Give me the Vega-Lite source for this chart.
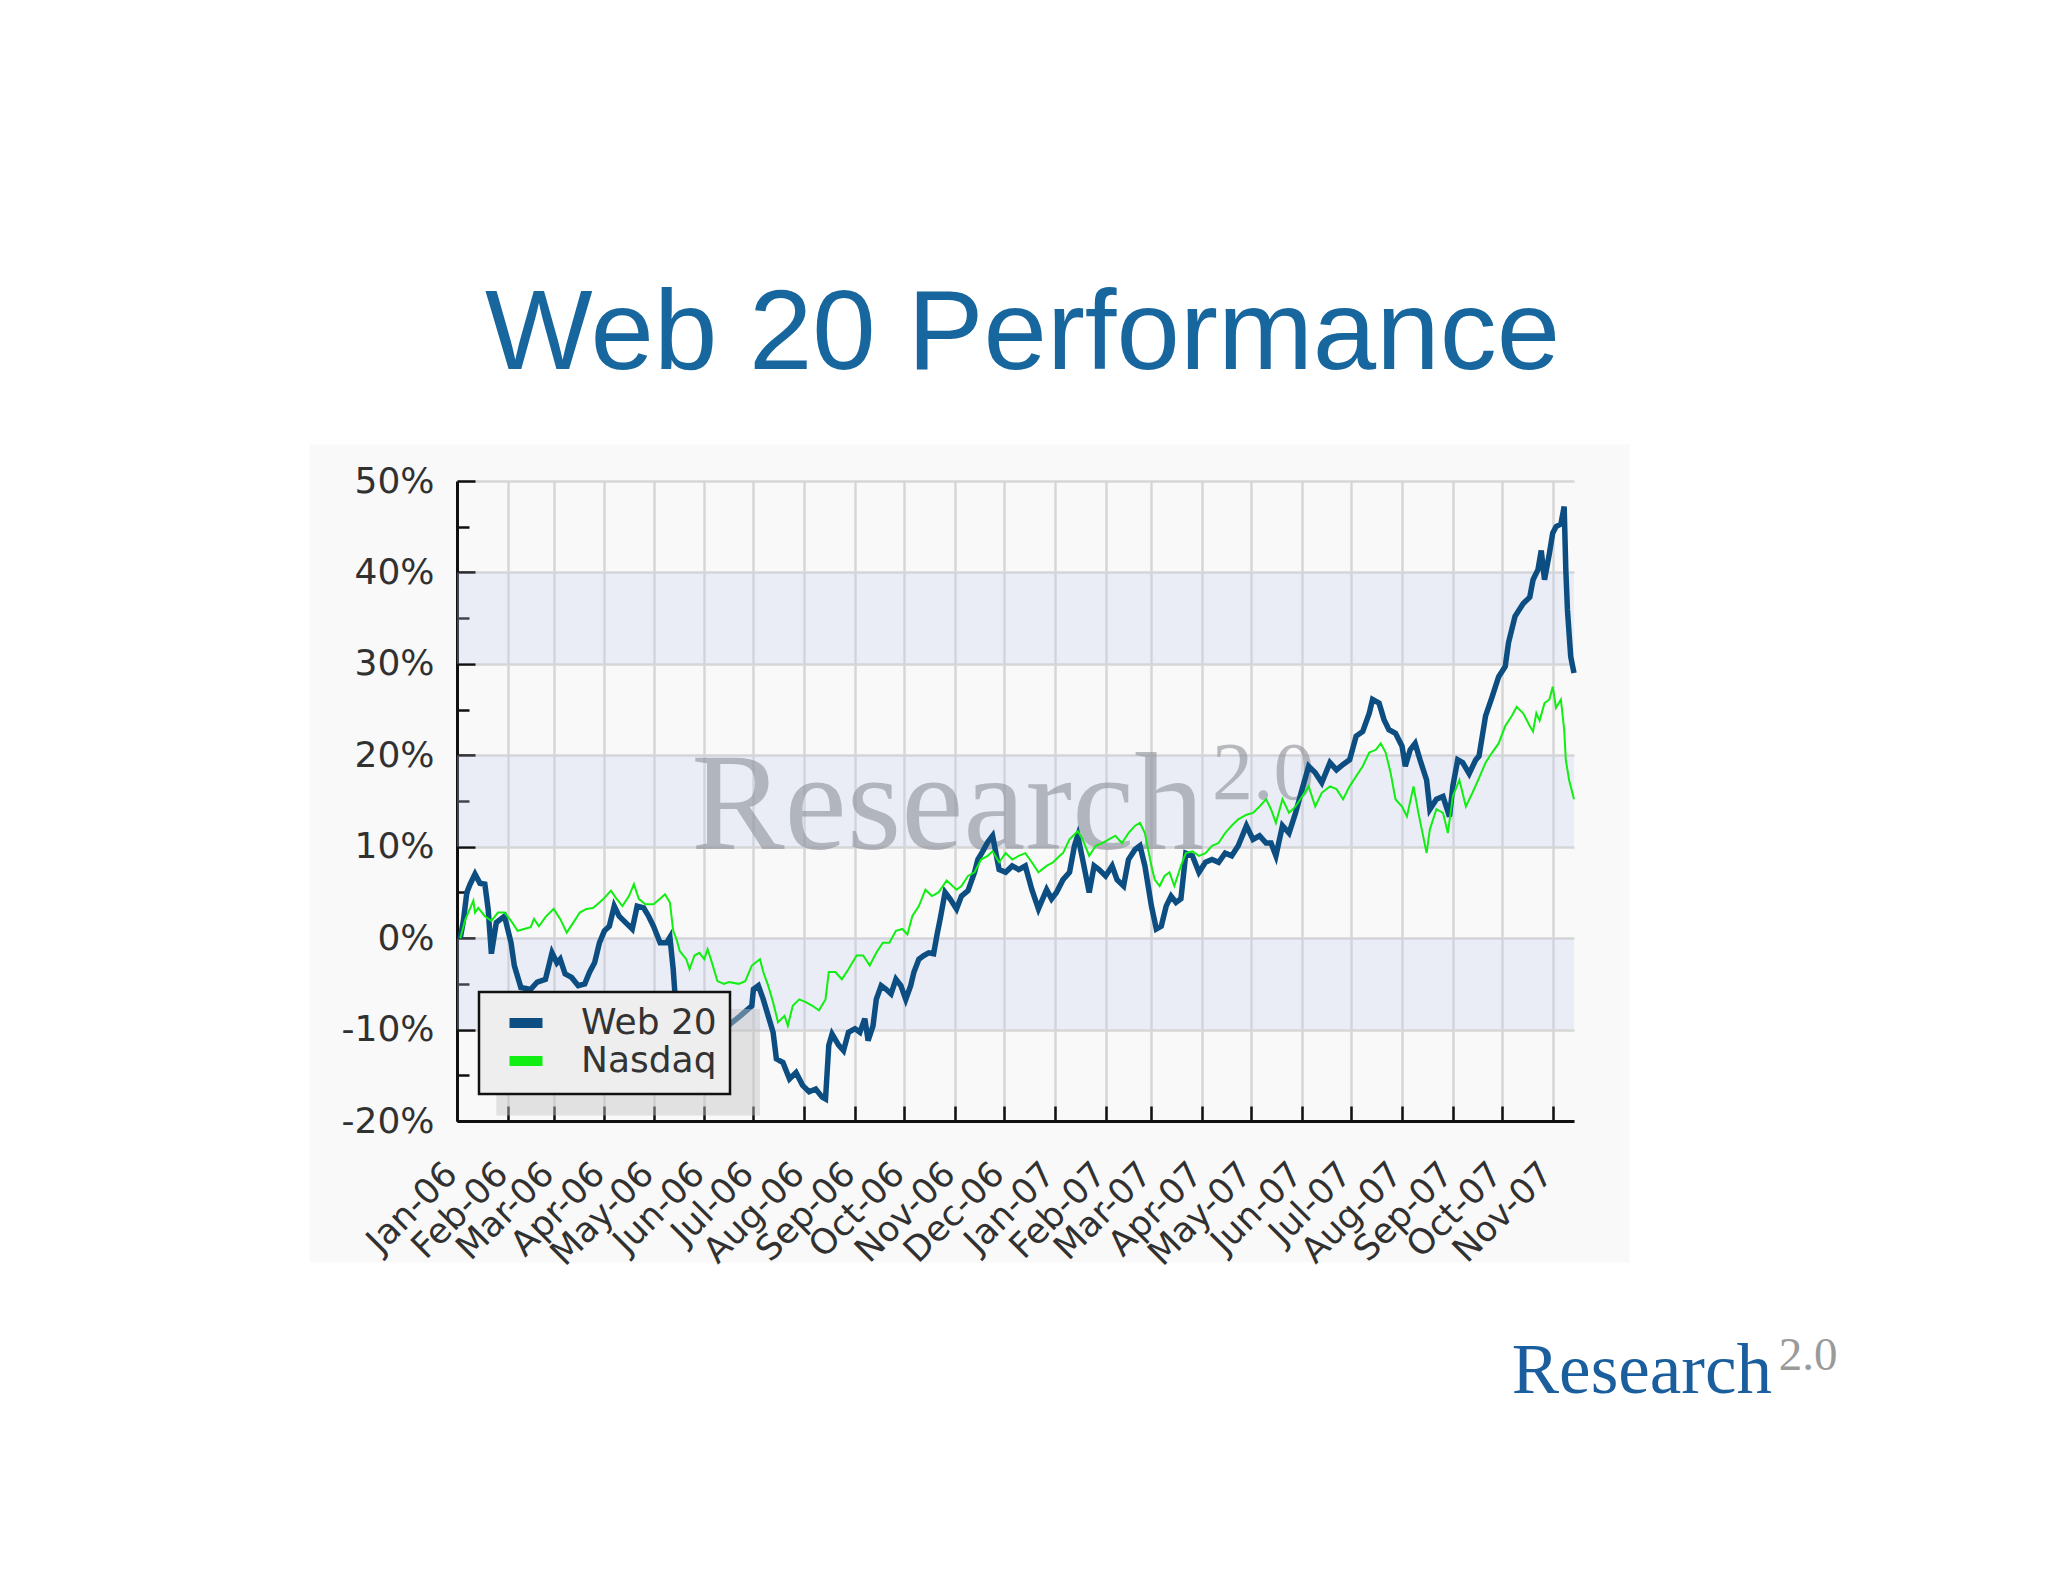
{
  "$schema": "https://vega.github.io/schema/vega-lite/v6.json",
  "width": 1117,
  "height": 640,
  "autosize": {"type": "none"},
  "padding": {"left": 457, "top": 481, "right": 474, "bottom": 461},
  "background": "#ffffff",
  "title": {"text": "Web 20 Performance", "font": "Liberation Sans", "fontSize": 114, "fontWeight": "normal", "color": "#17669E", "anchor": "middle", "frame": "group", "baseline": "alphabetic", "offset": -39, "dx": 7},
  "config": {
    "view": {"stroke": null, "fill": "#ffffff"},
    "axis": {"labelFont": "DejaVu Sans", "labelFontSize": 35, "labelColor": "#333333", "domainColor": "#111111", "domainWidth": 3, "tickColor": "#111111", "tickWidth": 2.5, "gridColor": "#dcdcdc", "gridWidth": 2.5, "title": null},
    "legend": {"orient": "none", "legendX": 22, "legendY": 511, "fillColor": "#eeeeee", "strokeColor": "#111111", "padding": 13, "labelFont": "DejaVu Sans", "labelFontSize": 36, "labelColor": "#333333", "symbolType": "M-2,0L2,0", "symbolSize": 272, "symbolStrokeWidth": 10, "symbolOffset": 16, "labelOffset": 37, "rowPadding": -3}
  },
  "datasets": {
    "bands": [{"lo": -10, "hi": 0}, {"lo": 10, "hi": 20}, {"lo": 30, "hi": 40}],
    "perf": [
{"date":"2006-01-03","series":"Web 20","value":0.0},
{"date":"2006-01-05","series":"Web 20","value":2.0},
{"date":"2006-01-07","series":"Web 20","value":5.0},
{"date":"2006-01-09","series":"Web 20","value":5.9},
{"date":"2006-01-12","series":"Web 20","value":7.0},
{"date":"2006-01-15","series":"Web 20","value":6.0},
{"date":"2006-01-18","series":"Web 20","value":5.9},
{"date":"2006-01-20","series":"Web 20","value":3.2},
{"date":"2006-01-22","series":"Web 20","value":-1.7},
{"date":"2006-01-25","series":"Web 20","value":1.7},
{"date":"2006-01-30","series":"Web 20","value":2.4},
{"date":"2006-02-03","series":"Web 20","value":-0.5},
{"date":"2006-02-05","series":"Web 20","value":-3.0},
{"date":"2006-02-09","series":"Web 20","value":-5.4},
{"date":"2006-02-15","series":"Web 20","value":-5.6},
{"date":"2006-02-19","series":"Web 20","value":-4.8},
{"date":"2006-02-24","series":"Web 20","value":-4.5},
{"date":"2006-02-28","series":"Web 20","value":-1.6},
{"date":"2006-03-03","series":"Web 20","value":-2.7},
{"date":"2006-03-05","series":"Web 20","value":-2.3},
{"date":"2006-03-08","series":"Web 20","value":-3.9},
{"date":"2006-03-12","series":"Web 20","value":-4.3},
{"date":"2006-03-16","series":"Web 20","value":-5.2},
{"date":"2006-03-20","series":"Web 20","value":-5.0},
{"date":"2006-03-23","series":"Web 20","value":-3.7},
{"date":"2006-03-26","series":"Web 20","value":-2.7},
{"date":"2006-03-29","series":"Web 20","value":-0.5},
{"date":"2006-04-01","series":"Web 20","value":0.8},
{"date":"2006-04-04","series":"Web 20","value":1.3},
{"date":"2006-04-07","series":"Web 20","value":3.5},
{"date":"2006-04-10","series":"Web 20","value":2.4},
{"date":"2006-04-14","series":"Web 20","value":1.7},
{"date":"2006-04-18","series":"Web 20","value":1.0},
{"date":"2006-04-21","series":"Web 20","value":3.5},
{"date":"2006-04-25","series":"Web 20","value":3.3},
{"date":"2006-04-28","series":"Web 20","value":2.4},
{"date":"2006-05-01","series":"Web 20","value":1.3},
{"date":"2006-05-05","series":"Web 20","value":-0.5},
{"date":"2006-05-09","series":"Web 20","value":-0.5},
{"date":"2006-05-11","series":"Web 20","value":0.1},
{"date":"2006-05-13","series":"Web 20","value":-3.4},
{"date":"2006-05-14","series":"Web 20","value":-5.9},
{"date":"2006-05-18","series":"Web 20","value":-7.5},
{"date":"2006-05-24","series":"Web 20","value":-8.5},
{"date":"2006-06-01","series":"Web 20","value":-9.5},
{"date":"2006-06-09","series":"Web 20","value":-10.5},
{"date":"2006-06-16","series":"Web 20","value":-9.5},
{"date":"2006-06-23","series":"Web 20","value":-8.5},
{"date":"2006-06-30","series":"Web 20","value":-7.4},
{"date":"2006-07-01","series":"Web 20","value":-5.6},
{"date":"2006-07-04","series":"Web 20","value":-5.2},
{"date":"2006-07-07","series":"Web 20","value":-6.7},
{"date":"2006-07-10","series":"Web 20","value":-8.5},
{"date":"2006-07-13","series":"Web 20","value":-10.3},
{"date":"2006-07-15","series":"Web 20","value":-13.2},
{"date":"2006-07-19","series":"Web 20","value":-13.6},
{"date":"2006-07-23","series":"Web 20","value":-15.4},
{"date":"2006-07-27","series":"Web 20","value":-14.7},
{"date":"2006-07-31","series":"Web 20","value":-16.1},
{"date":"2006-08-04","series":"Web 20","value":-16.8},
{"date":"2006-08-08","series":"Web 20","value":-16.5},
{"date":"2006-08-12","series":"Web 20","value":-17.4},
{"date":"2006-08-14","series":"Web 20","value":-17.6},
{"date":"2006-08-16","series":"Web 20","value":-11.7},
{"date":"2006-08-18","series":"Web 20","value":-10.5},
{"date":"2006-08-22","series":"Web 20","value":-11.7},
{"date":"2006-08-25","series":"Web 20","value":-12.3},
{"date":"2006-08-28","series":"Web 20","value":-10.3},
{"date":"2006-09-01","series":"Web 20","value":-9.9},
{"date":"2006-09-04","series":"Web 20","value":-10.3},
{"date":"2006-09-07","series":"Web 20","value":-8.8},
{"date":"2006-09-09","series":"Web 20","value":-11.2},
{"date":"2006-09-12","series":"Web 20","value":-9.6},
{"date":"2006-09-14","series":"Web 20","value":-6.7},
{"date":"2006-09-17","series":"Web 20","value":-5.2},
{"date":"2006-09-20","series":"Web 20","value":-5.6},
{"date":"2006-09-23","series":"Web 20","value":-6.1},
{"date":"2006-09-26","series":"Web 20","value":-4.5},
{"date":"2006-09-29","series":"Web 20","value":-5.2},
{"date":"2006-10-02","series":"Web 20","value":-6.7},
{"date":"2006-10-05","series":"Web 20","value":-5.2},
{"date":"2006-10-07","series":"Web 20","value":-3.7},
{"date":"2006-10-10","series":"Web 20","value":-2.3},
{"date":"2006-10-13","series":"Web 20","value":-1.9},
{"date":"2006-10-16","series":"Web 20","value":-1.6},
{"date":"2006-10-19","series":"Web 20","value":-1.7},
{"date":"2006-10-21","series":"Web 20","value":0.3},
{"date":"2006-10-23","series":"Web 20","value":2.1},
{"date":"2006-10-26","series":"Web 20","value":5.0},
{"date":"2006-10-29","series":"Web 20","value":4.3},
{"date":"2006-11-02","series":"Web 20","value":3.2},
{"date":"2006-11-05","series":"Web 20","value":4.6},
{"date":"2006-11-09","series":"Web 20","value":5.2},
{"date":"2006-11-13","series":"Web 20","value":7.2},
{"date":"2006-11-15","series":"Web 20","value":8.6},
{"date":"2006-11-18","series":"Web 20","value":9.5},
{"date":"2006-11-21","series":"Web 20","value":10.5},
{"date":"2006-11-24","series":"Web 20","value":11.2},
{"date":"2006-11-28","series":"Web 20","value":7.5},
{"date":"2006-12-02","series":"Web 20","value":7.2},
{"date":"2006-12-06","series":"Web 20","value":7.9},
{"date":"2006-12-10","series":"Web 20","value":7.5},
{"date":"2006-12-14","series":"Web 20","value":7.9},
{"date":"2006-12-18","series":"Web 20","value":5.3},
{"date":"2006-12-22","series":"Web 20","value":3.2},
{"date":"2006-12-27","series":"Web 20","value":5.3},
{"date":"2006-12-30","series":"Web 20","value":4.3},
{"date":"2007-01-02","series":"Web 20","value":5.0},
{"date":"2007-01-06","series":"Web 20","value":6.4},
{"date":"2007-01-10","series":"Web 20","value":7.2},
{"date":"2007-01-13","series":"Web 20","value":10.1},
{"date":"2007-01-15","series":"Web 20","value":11.2},
{"date":"2007-01-18","series":"Web 20","value":8.6},
{"date":"2007-01-22","series":"Web 20","value":5.0},
{"date":"2007-01-25","series":"Web 20","value":7.9},
{"date":"2007-01-28","series":"Web 20","value":7.5},
{"date":"2007-02-01","series":"Web 20","value":6.8},
{"date":"2007-02-05","series":"Web 20","value":7.9},
{"date":"2007-02-08","series":"Web 20","value":6.4},
{"date":"2007-02-12","series":"Web 20","value":5.7},
{"date":"2007-02-15","series":"Web 20","value":8.6},
{"date":"2007-02-19","series":"Web 20","value":9.7},
{"date":"2007-02-22","series":"Web 20","value":10.1},
{"date":"2007-02-25","series":"Web 20","value":7.9},
{"date":"2007-03-01","series":"Web 20","value":3.5},
{"date":"2007-03-04","series":"Web 20","value":1.0},
{"date":"2007-03-07","series":"Web 20","value":1.3},
{"date":"2007-03-10","series":"Web 20","value":3.5},
{"date":"2007-03-13","series":"Web 20","value":4.6},
{"date":"2007-03-16","series":"Web 20","value":3.9},
{"date":"2007-03-19","series":"Web 20","value":4.3},
{"date":"2007-03-22","series":"Web 20","value":9.3},
{"date":"2007-03-26","series":"Web 20","value":9.0},
{"date":"2007-03-30","series":"Web 20","value":7.2},
{"date":"2007-04-03","series":"Web 20","value":8.3},
{"date":"2007-04-07","series":"Web 20","value":8.6},
{"date":"2007-04-11","series":"Web 20","value":8.3},
{"date":"2007-04-15","series":"Web 20","value":9.3},
{"date":"2007-04-19","series":"Web 20","value":9.0},
{"date":"2007-04-23","series":"Web 20","value":10.1},
{"date":"2007-04-28","series":"Web 20","value":12.3},
{"date":"2007-05-02","series":"Web 20","value":10.8},
{"date":"2007-05-06","series":"Web 20","value":11.2},
{"date":"2007-05-10","series":"Web 20","value":10.4},
{"date":"2007-05-13","series":"Web 20","value":10.4},
{"date":"2007-05-16","series":"Web 20","value":9.0},
{"date":"2007-05-20","series":"Web 20","value":12.3},
{"date":"2007-05-24","series":"Web 20","value":11.5},
{"date":"2007-05-28","series":"Web 20","value":13.7},
{"date":"2007-06-01","series":"Web 20","value":16.3},
{"date":"2007-06-05","series":"Web 20","value":18.8},
{"date":"2007-06-09","series":"Web 20","value":18.1},
{"date":"2007-06-13","series":"Web 20","value":17.0},
{"date":"2007-06-18","series":"Web 20","value":19.2},
{"date":"2007-06-22","series":"Web 20","value":18.4},
{"date":"2007-06-26","series":"Web 20","value":19.0},
{"date":"2007-06-30","series":"Web 20","value":19.5},
{"date":"2007-07-04","series":"Web 20","value":22.1},
{"date":"2007-07-08","series":"Web 20","value":22.6},
{"date":"2007-07-12","series":"Web 20","value":24.6},
{"date":"2007-07-14","series":"Web 20","value":26.1},
{"date":"2007-07-18","series":"Web 20","value":25.7},
{"date":"2007-07-21","series":"Web 20","value":23.9},
{"date":"2007-07-24","series":"Web 20","value":22.8},
{"date":"2007-07-28","series":"Web 20","value":22.4},
{"date":"2007-08-01","series":"Web 20","value":21.0},
{"date":"2007-08-03","series":"Web 20","value":18.8},
{"date":"2007-08-06","series":"Web 20","value":20.6},
{"date":"2007-08-09","series":"Web 20","value":21.3},
{"date":"2007-08-12","series":"Web 20","value":19.5},
{"date":"2007-08-16","series":"Web 20","value":17.3},
{"date":"2007-08-18","series":"Web 20","value":14.1},
{"date":"2007-08-22","series":"Web 20","value":15.2},
{"date":"2007-08-26","series":"Web 20","value":15.5},
{"date":"2007-08-30","series":"Web 20","value":13.3},
{"date":"2007-09-01","series":"Web 20","value":16.6},
{"date":"2007-09-04","series":"Web 20","value":19.5},
{"date":"2007-09-07","series":"Web 20","value":19.2},
{"date":"2007-09-11","series":"Web 20","value":18.0},
{"date":"2007-09-15","series":"Web 20","value":19.5},
{"date":"2007-09-17","series":"Web 20","value":19.9},
{"date":"2007-09-19","series":"Web 20","value":22.1},
{"date":"2007-09-21","series":"Web 20","value":24.3},
{"date":"2007-09-25","series":"Web 20","value":26.4},
{"date":"2007-09-29","series":"Web 20","value":28.6},
{"date":"2007-10-03","series":"Web 20","value":29.7},
{"date":"2007-10-05","series":"Web 20","value":32.3},
{"date":"2007-10-09","series":"Web 20","value":35.2},
{"date":"2007-10-14","series":"Web 20","value":36.6},
{"date":"2007-10-18","series":"Web 20","value":37.3},
{"date":"2007-10-20","series":"Web 20","value":39.2},
{"date":"2007-10-23","series":"Web 20","value":40.3},
{"date":"2007-10-25","series":"Web 20","value":42.4},
{"date":"2007-10-27","series":"Web 20","value":39.2},
{"date":"2007-10-30","series":"Web 20","value":42.1},
{"date":"2007-11-01","series":"Web 20","value":44.3},
{"date":"2007-11-03","series":"Web 20","value":45.0},
{"date":"2007-11-06","series":"Web 20","value":45.3},
{"date":"2007-11-08","series":"Web 20","value":47.2},
{"date":"2007-11-09","series":"Web 20","value":40.3},
{"date":"2007-11-10","series":"Web 20","value":35.9},
{"date":"2007-11-12","series":"Web 20","value":30.8},
{"date":"2007-11-14","series":"Web 20","value":29.0},
{"date":"2006-01-03","series":"Nasdaq","value":0.0},
{"date":"2006-01-06","series":"Nasdaq","value":2.0},
{"date":"2006-01-11","series":"Nasdaq","value":4.1},
{"date":"2006-01-12","series":"Nasdaq","value":2.8},
{"date":"2006-01-14","series":"Nasdaq","value":3.3},
{"date":"2006-01-18","series":"Nasdaq","value":2.4},
{"date":"2006-01-22","series":"Nasdaq","value":1.9},
{"date":"2006-01-26","series":"Nasdaq","value":2.8},
{"date":"2006-01-30","series":"Nasdaq","value":2.8},
{"date":"2006-02-03","series":"Nasdaq","value":1.9},
{"date":"2006-02-07","series":"Nasdaq","value":0.8},
{"date":"2006-02-11","series":"Nasdaq","value":1.0},
{"date":"2006-02-15","series":"Nasdaq","value":1.2},
{"date":"2006-02-17","series":"Nasdaq","value":2.1},
{"date":"2006-02-20","series":"Nasdaq","value":1.3},
{"date":"2006-02-24","series":"Nasdaq","value":2.3},
{"date":"2006-03-01","series":"Nasdaq","value":3.2},
{"date":"2006-03-05","series":"Nasdaq","value":2.1},
{"date":"2006-03-09","series":"Nasdaq","value":0.6},
{"date":"2006-03-13","series":"Nasdaq","value":1.7},
{"date":"2006-03-17","series":"Nasdaq","value":2.8},
{"date":"2006-03-21","series":"Nasdaq","value":3.2},
{"date":"2006-03-25","series":"Nasdaq","value":3.3},
{"date":"2006-03-29","series":"Nasdaq","value":3.9},
{"date":"2006-04-01","series":"Nasdaq","value":4.4},
{"date":"2006-04-05","series":"Nasdaq","value":5.2},
{"date":"2006-04-08","series":"Nasdaq","value":4.4},
{"date":"2006-04-12","series":"Nasdaq","value":3.5},
{"date":"2006-04-16","series":"Nasdaq","value":4.6},
{"date":"2006-04-19","series":"Nasdaq","value":5.9},
{"date":"2006-04-22","series":"Nasdaq","value":4.3},
{"date":"2006-04-26","series":"Nasdaq","value":3.7},
{"date":"2006-05-01","series":"Nasdaq","value":3.7},
{"date":"2006-05-05","series":"Nasdaq","value":4.3},
{"date":"2006-05-08","series":"Nasdaq","value":4.8},
{"date":"2006-05-11","series":"Nasdaq","value":3.9},
{"date":"2006-05-13","series":"Nasdaq","value":0.8},
{"date":"2006-05-15","series":"Nasdaq","value":-0.1},
{"date":"2006-05-17","series":"Nasdaq","value":-1.4},
{"date":"2006-05-21","series":"Nasdaq","value":-2.3},
{"date":"2006-05-23","series":"Nasdaq","value":-3.4},
{"date":"2006-05-26","series":"Nasdaq","value":-1.9},
{"date":"2006-05-29","series":"Nasdaq","value":-1.6},
{"date":"2006-06-01","series":"Nasdaq","value":-2.3},
{"date":"2006-06-03","series":"Nasdaq","value":-1.2},
{"date":"2006-06-05","series":"Nasdaq","value":-2.3},
{"date":"2006-06-09","series":"Nasdaq","value":-4.7},
{"date":"2006-06-13","series":"Nasdaq","value":-5.0},
{"date":"2006-06-16","series":"Nasdaq","value":-4.8},
{"date":"2006-06-22","series":"Nasdaq","value":-5.0},
{"date":"2006-06-26","series":"Nasdaq","value":-4.7},
{"date":"2006-06-30","series":"Nasdaq","value":-3.0},
{"date":"2006-07-05","series":"Nasdaq","value":-2.3},
{"date":"2006-07-07","series":"Nasdaq","value":-3.7},
{"date":"2006-07-10","series":"Nasdaq","value":-5.2},
{"date":"2006-07-13","series":"Nasdaq","value":-7.0},
{"date":"2006-07-16","series":"Nasdaq","value":-9.2},
{"date":"2006-07-20","series":"Nasdaq","value":-8.5},
{"date":"2006-07-22","series":"Nasdaq","value":-9.6},
{"date":"2006-07-25","series":"Nasdaq","value":-7.4},
{"date":"2006-07-29","series":"Nasdaq","value":-6.7},
{"date":"2006-08-02","series":"Nasdaq","value":-7.0},
{"date":"2006-08-06","series":"Nasdaq","value":-7.4},
{"date":"2006-08-10","series":"Nasdaq","value":-7.9},
{"date":"2006-08-14","series":"Nasdaq","value":-6.7},
{"date":"2006-08-16","series":"Nasdaq","value":-3.7},
{"date":"2006-08-20","series":"Nasdaq","value":-3.7},
{"date":"2006-08-24","series":"Nasdaq","value":-4.5},
{"date":"2006-08-28","series":"Nasdaq","value":-3.4},
{"date":"2006-09-02","series":"Nasdaq","value":-1.9},
{"date":"2006-09-06","series":"Nasdaq","value":-1.9},
{"date":"2006-09-10","series":"Nasdaq","value":-3.0},
{"date":"2006-09-14","series":"Nasdaq","value":-1.6},
{"date":"2006-09-18","series":"Nasdaq","value":-0.5},
{"date":"2006-09-22","series":"Nasdaq","value":-0.5},
{"date":"2006-09-26","series":"Nasdaq","value":0.8},
{"date":"2006-09-30","series":"Nasdaq","value":1.0},
{"date":"2006-10-03","series":"Nasdaq","value":0.4},
{"date":"2006-10-06","series":"Nasdaq","value":2.4},
{"date":"2006-10-10","series":"Nasdaq","value":3.5},
{"date":"2006-10-14","series":"Nasdaq","value":5.3},
{"date":"2006-10-18","series":"Nasdaq","value":4.6},
{"date":"2006-10-22","series":"Nasdaq","value":5.0},
{"date":"2006-10-27","series":"Nasdaq","value":6.3},
{"date":"2006-11-02","series":"Nasdaq","value":5.3},
{"date":"2006-11-05","series":"Nasdaq","value":5.7},
{"date":"2006-11-09","series":"Nasdaq","value":6.8},
{"date":"2006-11-13","series":"Nasdaq","value":7.2},
{"date":"2006-11-17","series":"Nasdaq","value":8.6},
{"date":"2006-11-21","series":"Nasdaq","value":9.0},
{"date":"2006-11-24","series":"Nasdaq","value":9.5},
{"date":"2006-11-28","series":"Nasdaq","value":8.3},
{"date":"2006-12-02","series":"Nasdaq","value":9.3},
{"date":"2006-12-06","series":"Nasdaq","value":8.6},
{"date":"2006-12-10","series":"Nasdaq","value":9.0},
{"date":"2006-12-14","series":"Nasdaq","value":9.3},
{"date":"2006-12-18","series":"Nasdaq","value":8.3},
{"date":"2006-12-22","series":"Nasdaq","value":7.2},
{"date":"2006-12-27","series":"Nasdaq","value":7.9},
{"date":"2006-12-31","series":"Nasdaq","value":8.3},
{"date":"2007-01-04","series":"Nasdaq","value":9.0},
{"date":"2007-01-06","series":"Nasdaq","value":9.3},
{"date":"2007-01-10","series":"Nasdaq","value":10.8},
{"date":"2007-01-15","series":"Nasdaq","value":11.7},
{"date":"2007-01-18","series":"Nasdaq","value":10.8},
{"date":"2007-01-22","series":"Nasdaq","value":9.0},
{"date":"2007-01-26","series":"Nasdaq","value":10.1},
{"date":"2007-01-30","series":"Nasdaq","value":10.4},
{"date":"2007-02-03","series":"Nasdaq","value":10.8},
{"date":"2007-02-07","series":"Nasdaq","value":11.2},
{"date":"2007-02-11","series":"Nasdaq","value":10.4},
{"date":"2007-02-15","series":"Nasdaq","value":11.5},
{"date":"2007-02-19","series":"Nasdaq","value":12.3},
{"date":"2007-02-22","series":"Nasdaq","value":12.6},
{"date":"2007-02-25","series":"Nasdaq","value":11.5},
{"date":"2007-03-01","series":"Nasdaq","value":7.9},
{"date":"2007-03-03","series":"Nasdaq","value":6.4},
{"date":"2007-03-06","series":"Nasdaq","value":5.7},
{"date":"2007-03-09","series":"Nasdaq","value":6.8},
{"date":"2007-03-12","series":"Nasdaq","value":7.2},
{"date":"2007-03-15","series":"Nasdaq","value":5.7},
{"date":"2007-03-19","series":"Nasdaq","value":7.9},
{"date":"2007-03-22","series":"Nasdaq","value":9.3},
{"date":"2007-03-26","series":"Nasdaq","value":9.5},
{"date":"2007-03-30","series":"Nasdaq","value":9.0},
{"date":"2007-04-03","series":"Nasdaq","value":9.3},
{"date":"2007-04-07","series":"Nasdaq","value":10.1},
{"date":"2007-04-11","series":"Nasdaq","value":10.4},
{"date":"2007-04-15","series":"Nasdaq","value":11.5},
{"date":"2007-04-19","series":"Nasdaq","value":12.3},
{"date":"2007-04-23","series":"Nasdaq","value":13.0},
{"date":"2007-04-28","series":"Nasdaq","value":13.5},
{"date":"2007-05-02","series":"Nasdaq","value":13.7},
{"date":"2007-05-06","series":"Nasdaq","value":14.4},
{"date":"2007-05-10","series":"Nasdaq","value":15.2},
{"date":"2007-05-13","series":"Nasdaq","value":14.1},
{"date":"2007-05-16","series":"Nasdaq","value":12.6},
{"date":"2007-05-20","series":"Nasdaq","value":15.2},
{"date":"2007-05-24","series":"Nasdaq","value":13.7},
{"date":"2007-05-28","series":"Nasdaq","value":14.4},
{"date":"2007-06-01","series":"Nasdaq","value":15.5},
{"date":"2007-06-05","series":"Nasdaq","value":16.6},
{"date":"2007-06-09","series":"Nasdaq","value":14.4},
{"date":"2007-06-13","series":"Nasdaq","value":15.9},
{"date":"2007-06-18","series":"Nasdaq","value":16.6},
{"date":"2007-06-22","series":"Nasdaq","value":16.3},
{"date":"2007-06-26","series":"Nasdaq","value":15.2},
{"date":"2007-06-30","series":"Nasdaq","value":16.6},
{"date":"2007-07-04","series":"Nasdaq","value":17.7},
{"date":"2007-07-08","series":"Nasdaq","value":18.8},
{"date":"2007-07-12","series":"Nasdaq","value":20.3},
{"date":"2007-07-16","series":"Nasdaq","value":20.6},
{"date":"2007-07-19","series":"Nasdaq","value":21.3},
{"date":"2007-07-22","series":"Nasdaq","value":20.3},
{"date":"2007-07-25","series":"Nasdaq","value":18.1},
{"date":"2007-07-28","series":"Nasdaq","value":15.2},
{"date":"2007-08-01","series":"Nasdaq","value":14.4},
{"date":"2007-08-04","series":"Nasdaq","value":13.3},
{"date":"2007-08-08","series":"Nasdaq","value":16.6},
{"date":"2007-08-11","series":"Nasdaq","value":13.7},
{"date":"2007-08-16","series":"Nasdaq","value":9.3},
{"date":"2007-08-18","series":"Nasdaq","value":11.9},
{"date":"2007-08-22","series":"Nasdaq","value":14.1},
{"date":"2007-08-26","series":"Nasdaq","value":13.7},
{"date":"2007-08-29","series":"Nasdaq","value":11.5},
{"date":"2007-09-01","series":"Nasdaq","value":15.5},
{"date":"2007-09-05","series":"Nasdaq","value":17.3},
{"date":"2007-09-09","series":"Nasdaq","value":14.4},
{"date":"2007-09-13","series":"Nasdaq","value":15.9},
{"date":"2007-09-17","series":"Nasdaq","value":17.5},
{"date":"2007-09-21","series":"Nasdaq","value":19.2},
{"date":"2007-09-25","series":"Nasdaq","value":20.3},
{"date":"2007-09-29","series":"Nasdaq","value":21.3},
{"date":"2007-10-03","series":"Nasdaq","value":23.2},
{"date":"2007-10-07","series":"Nasdaq","value":24.3},
{"date":"2007-10-10","series":"Nasdaq","value":25.3},
{"date":"2007-10-14","series":"Nasdaq","value":24.6},
{"date":"2007-10-18","series":"Nasdaq","value":23.2},
{"date":"2007-10-20","series":"Nasdaq","value":22.6},
{"date":"2007-10-22","series":"Nasdaq","value":24.6},
{"date":"2007-10-24","series":"Nasdaq","value":23.8},
{"date":"2007-10-27","series":"Nasdaq","value":25.7},
{"date":"2007-10-30","series":"Nasdaq","value":26.1},
{"date":"2007-11-01","series":"Nasdaq","value":27.5},
{"date":"2007-11-03","series":"Nasdaq","value":25.2},
{"date":"2007-11-06","series":"Nasdaq","value":26.1},
{"date":"2007-11-08","series":"Nasdaq","value":22.8},
{"date":"2007-11-09","series":"Nasdaq","value":19.5},
{"date":"2007-11-11","series":"Nasdaq","value":17.3},
{"date":"2007-11-14","series":"Nasdaq","value":15.2}
    ]
  },
  "layer": [
    {
      "data": {"values": [{}]},
      "mark": {"type": "rect", "fill": "#000000", "opacity": 0.022},
      "encoding": {
        "x": {"datum": {"year": 2005, "month": 10, "date": 3}, "type": "temporal"},
        "x2": {"datum": {"year": 2007, "month": 12, "date": 18}},
        "y": {"datum": 54},
        "y2": {"datum": -35.5}
      }
    },
    {
      "data": {"name": "bands"},
      "mark": {"type": "rect", "fill": "#c8d0f0", "opacity": 0.28},
      "encoding": {
        "y": {"field": "lo", "type": "quantitative"},
        "y2": {"field": "hi"}
      }
    },
    {
      "data": {"values": [{}]},
      "mark": {"type": "text", "text": "Research", "font": "Liberation Serif", "fontSize": 140, "color": "#8c9099", "opacity": 0.6, "align": "left", "baseline": "alphabetic"},
      "encoding": {
        "x": {"datum": {"year": 2006, "month": 5, "date": 24}, "type": "temporal"},
        "y": {"datum": 9.8}
      }
    },
    {
      "data": {"values": [{}]},
      "mark": {"type": "text", "text": "2.0", "font": "Liberation Serif", "fontSize": 82, "color": "#8c9099", "opacity": 0.6, "align": "left", "baseline": "alphabetic"},
      "encoding": {
        "x": {"datum": {"year": 2007, "month": 4, "date": 7}, "type": "temporal"},
        "y": {"datum": 15.2}
      }
    },
    {
      "data": {"name": "perf"},
      "mark": {"type": "line", "strokeJoin": "miter"},
      "encoding": {
        "x": {"field": "date", "type": "temporal",
          "scale": {"domain": [{"year": 2006, "month": 1, "date": 1}, {"year": 2007, "month": 11, "date": 14}]},
          "axis": {"tickCount": {"interval": "month", "step": 1}, "labelExpr": "timeFormat(datum.value, '%b-%y')", "labelAngle": -45, "tickSize": -15, "labelPadding": 50, "labelOffset": -18, "labelOverlap": false, "labelBound": false, "labelFlush": false, "grid": true}},
        "y": {"field": "value", "type": "quantitative",
          "scale": {"domain": [-20, 50], "nice": false, "zero": false},
          "axis": {"values": [-20, -15, -10, -5, 0, 5, 10, 15, 20, 25, 30, 35, 40, 45, 50],
            "labelExpr": "datum.value % 10 === 0 ? datum.value + '%' : ''",
            "tickSize": {"condition": {"test": "datum.value % 10 === 0", "value": -18}, "value": -12},
            "gridOpacity": {"condition": {"test": "datum.value % 10 === 0", "value": 1}, "value": 0},
            "labelPadding": 41, "labelFontSize": 36, "grid": true}},
        "color": {"field": "series", "type": "nominal",
          "scale": {"domain": ["Web 20", "Nasdaq"], "range": ["#0d4e82", "#11ee11"]},
          "legend": {"title": null, "encode": {"legend": {"update": {"strokeWidth": {"value": 2.5}}}}}},
        "strokeWidth": {"condition": {"test": "datum.series === 'Web 20'", "value": 5.5}, "value": 2}
      }
    },
    {
      "mark": {"type": "rule", "color": "#111111", "strokeWidth": 2.5},
      "encoding": {"y": {"datum": 0}}
    },
    {
      "data": {"values": [{}]},
      "mark": {"type": "rect", "fill": "#c4c4c4", "opacity": 0.45},
      "encoding": {
        "x": {"datum": {"year": 2006, "month": 1, "date": 25}, "type": "temporal"},
        "x2": {"datum": {"year": 2006, "month": 7, "date": 5}},
        "y": {"datum": -7.75},
        "y2": {"datum": -19.4}
      }
    },
    {
      "data": {"values": [{}]},
      "mark": {"type": "text", "text": "Research", "font": "Liberation Serif", "fontSize": 71, "color": "#1B5E9E", "align": "left", "baseline": "alphabetic"},
      "encoding": {
        "x": {"datum": {"year": 2007, "month": 10, "date": 7}, "type": "temporal"},
        "y": {"datum": -49.8}
      }
    },
    {
      "data": {"values": [{}]},
      "mark": {"type": "text", "text": "2.0", "font": "Liberation Serif", "fontSize": 47, "color": "#9a9a9a", "align": "left", "baseline": "alphabetic"},
      "encoding": {
        "x": {"datum": {"year": 2008, "month": 3, "date": 18}, "type": "temporal"},
        "y": {"datum": -47.2}
      }
    }
  ]
}
